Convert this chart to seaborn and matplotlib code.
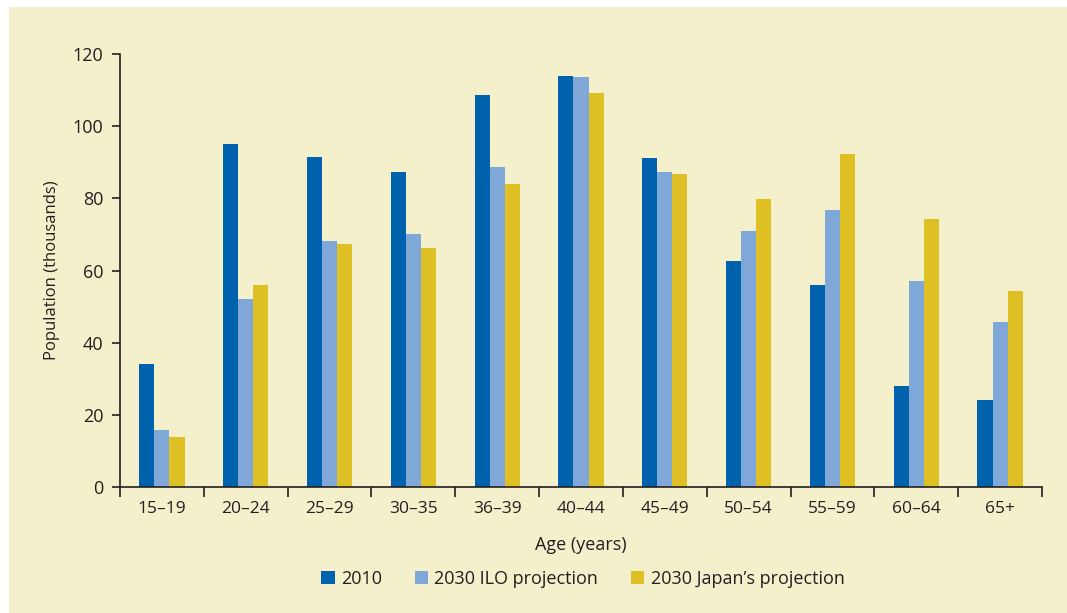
import pandas as pd
import matplotlib.pyplot as plt
import seaborn as sns
from matplotlib.patches import Rectangle

# values (thousands)
age_groups = ['15–19', '20–24', '25–29', '30–35', '36–39', '40–44',
              '45–49', '50–54', '55–59', '60–64', '65+']
pop_2010 = [34.1, 95.1, 91.5, 87.3, 108.6, 113.9, 91.2, 62.6, 56.0, 28.0, 24.1]
pop_ilo = [15.8, 52.1, 68.2, 70.1, 88.7, 113.6, 87.3, 71.0, 76.8, 57.1, 45.7]
pop_japan = [13.9, 56.0, 67.3, 66.2, 84.0, 109.2, 86.7, 79.8, 92.3, 74.3, 54.3]
series_names = ['2010', '2030 ILO projection', '2030 Japan\u2019s projection']
series_colors = ['#0061AD', '#7FA8D9', '#DEC024']

BG = '#F5F0CC'
INK = '#231F20'

df = pd.DataFrame({
    'age': age_groups * 3,
    'value': pop_2010 + pop_ilo + pop_japan,
    'series': [s for s in series_names for _ in age_groups],
})

sns.set_theme(style='white')
plt.rcParams['font.family'] = ['Open Sans', 'DejaVu Sans']

fig = plt.figure(figsize=(10.67, 6.13), dpi=100)
fig.patch.set_facecolor('white')
fig.patches.append(Rectangle((9 / 1067, 0), 1, 1 - 7 / 613, transform=fig.transFigure,
                             facecolor=BG, edgecolor='none', zorder=-10))
ax = fig.add_axes([120 / 1067, 1 - 487 / 613, (1042 - 120) / 1067, (487 - 54) / 613])
ax.set_facecolor('none')

sns.barplot(data=df, x='age', y='value', hue='series', order=age_groups,
            hue_order=series_names, palette=series_colors, width=0.54,
            gap=0, saturation=1, linewidth=0, ax=ax)

ax.set_ylim(0, 120)
ax.set_xlim(-0.5, len(age_groups) - 0.5)
ax.set_yticks(range(0, 121, 20))
ax.tick_params(axis='y', length=6, width=1.2, color=INK, labelsize=13,
               labelcolor=INK, left=True, pad=6)

# ticks at group boundaries, labels centred on groups
ax.set_xticks([i - 0.5 for i in range(len(age_groups) + 1)])
ax.set_xticklabels([])
ax.set_xticks(range(len(age_groups)), minor=True)
ax.set_xticklabels(age_groups, minor=True)
ax.tick_params(axis='x', which='major', length=7, width=1.2, color=INK, bottom=True)
ax.tick_params(axis='x', which='minor', length=0, labelsize=12.5, labelcolor=INK, pad=10)

for side in ['top', 'right']:
    ax.spines[side].set_visible(False)
for side in ['left', 'bottom']:
    ax.spines[side].set_color(INK)
    ax.spines[side].set_linewidth(1.2)

ax.set_xlabel('Age (years)', fontsize=13, color=INK, labelpad=14)
ax.set_ylabel('Population (thousands)', fontsize=12, color=INK, labelpad=9)

handles, labels = ax.get_legend_handles_labels()
ax.legend(handles, labels, loc='center', bbox_to_anchor=(0.502, -0.2125), ncol=3,
          frameon=False, fontsize=13, handlelength=0.75, handleheight=0.75,
          handletextpad=0.35, columnspacing=1.8, labelcolor=INK)

fig.savefig('out.png', dpi=100, facecolor=fig.get_facecolor())
